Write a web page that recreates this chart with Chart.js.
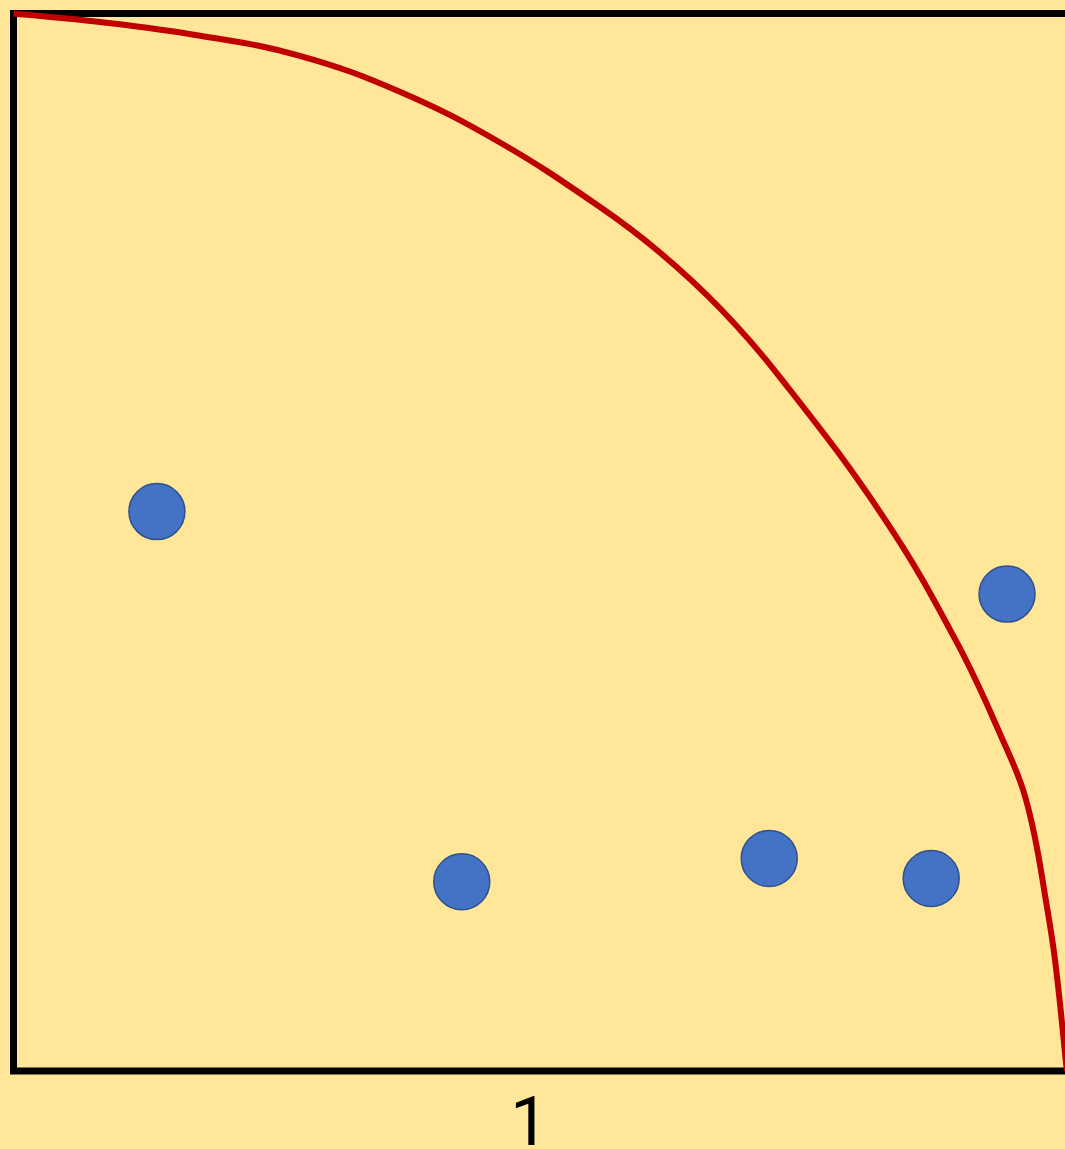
<!DOCTYPE html>
<html>
<head>
<meta charset="utf-8">
<script src="https://cdn.jsdelivr.net/npm/chart.js@4"></script>
<style>
    html, body { margin: 0; padding: 0; background: #FFE699; overflow: hidden; }
    #chartMain { position: absolute; left: 0; top: 0; }
</style>
</head>
<body>
<canvas id="chartMain" width="1090" height="1189"></canvas>
<script>
// red curve
var curveX = [0, 0.168, 0.362, 0.555, 0.749, 0.943, 1.137, 1.253, 1.370, 1.486, 1.686, 1.829, 1.926, 1.957, 1.980, 1.999, 2.019, 2.042];
var curveY = [1.0, 0.992, 0.979, 0.960, 0.926, 0.878, 0.817, 0.774, 0.721, 0.656, 0.524, 0.405, 0.304, 0.266, 0.221, 0.168, 0.105, 0];

// blue dots
var dotX = [0.278, 0.869, 1.465, 1.779, 1.926];
var dotY = [0.529, 0.179, 0.201, 0.182, 0.451];

// x axis ticks
var tickValues = [1];
var tickLabels = ["1"];

var xMax = 2.05;

function toPoints(xs, ys) {
    var pts = [];
    for (var i = 0; i < xs.length; i++) {
        pts.push({ x: xs[i], y: ys[i] });
    }
    return pts;
}

var bgPlugin = {
    id: 'bg',
    beforeDraw: function (chart) {
        var c = chart.ctx;
        c.save();
        c.fillStyle = '#FFE699';
        c.fillRect(0, 0, chart.width, chart.height);
        c.restore();
    },
    beforeDatasetsDraw: function (chart) {
        var a = chart.chartArea;
        var c = chart.ctx;
        c.save();
        c.strokeStyle = '#000000';
        c.lineWidth = 7;
        c.strokeRect(a.left, a.top, a.right - a.left, a.bottom - a.top);
        c.restore();
    }
};

var ctx = document.getElementById('chartMain').getContext('2d');
var chart = new Chart(ctx, {
    type: 'scatter',
    data: {
        datasets: [{
            label: 'dots',
            data: toPoints(dotX, dotY),
            pointRadius: 28,
            pointBackgroundColor: '#4472C4',
            pointBorderColor: '#2F528F',
            pointBorderWidth: 1.5,
            order: 1
        }, {
            label: 'curve',
            data: toPoints(curveX, curveY),
            showLine: true,
            pointRadius: 0,
            borderColor: '#C00000',
            borderWidth: 6,
            tension: 0.4,
            clip: false,
            order: 2
        }]
    },
    options: {
        responsive: false,
        animation: false,
        layout: {
            autoPadding: false,
            padding: { left: 13.5, top: 13.5, right: 19, bottom: 4.4 }
        },
        plugins: {
            legend: { display: false },
            tooltip: { enabled: false }
        },
        scales: {
            x: {
                type: 'linear',
                min: 0,
                max: xMax,
                grid: { display: false, drawTicks: false },
                border: { display: false },
                afterBuildTicks: function (scale) {
                    scale.ticks = tickValues.map(function (v) { return { value: v }; });
                },
                ticks: {
                    autoSkip: false,
                    maxRotation: 0,
                    padding: 16,
                    color: '#000000',
                    font: { family: "Roboto, 'Noto Sans', sans-serif", size: 68 },
                    callback: function (value, index) {
                        return tickLabels[index];
                    }
                }
            },
            y: {
                display: false,
                min: 0,
                max: 1
            }
        }
    },
    plugins: [bgPlugin]
});
</script>
</body>
</html>
